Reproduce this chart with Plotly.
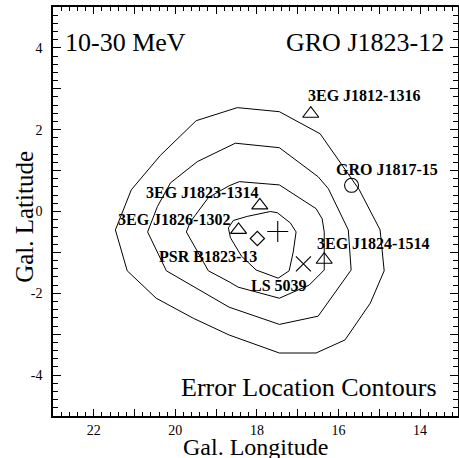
import plotly.graph_objects as go

# ---------------- data ----------------
# Error location contours (Gal. longitude / latitude vertices), outer -> inner
contour1_lon = [18.48, 17.45, 16.45, 15.49, 14.98, 14.88, 15.22, 15.84, 16.55, 17.45,
                18.68, 19.56, 20.47, 21.18, 21.47, 21.08, 20.37, 19.49]
contour1_lat = [2.54, 2.44, 1.90, 0.53, -0.45, -1.45, -2.24, -3.14, -3.46, -3.46,
                -3.02, -2.61, -2.12, -1.45, -0.45, 0.53, 1.37, 2.22]

contour2_lon = [18.53, 17.45, 16.50, 16.25, 15.76, 15.69, 16.50, 17.45, 18.68, 19.61,
                20.22, 20.68, 20.44, 20.12, 19.46]
contour2_lat = [1.67, 1.56, 0.85, 0.56, -0.45, -1.43, -2.56, -2.76, -2.34, -1.81,
                -1.45, -0.50, 0.12, 0.70, 1.22]

contour3_lon = [18.43, 17.45, 16.55, 16.40, 16.35, 16.35, 16.72, 17.45, 18.46, 18.68,
                19.19, 19.73, 19.63, 19.19, 18.68]
contour3_lat = [0.73, 0.65, 0.07, -0.18, -0.50, -1.43, -1.80, -2.12, -1.85, -1.72,
                -1.45, -0.50, -0.25, 0.34, 0.63]

contour4_lon = [18.58, 18.24, 17.67, 17.50, 17.18, 17.04, 17.11, 17.21, 17.48, 18.02,
                18.38, 18.65, 18.70]
contour4_lat = [-0.22, -0.12, 0.00, -0.03, -0.28, -0.50, -0.99, -1.45, -1.63, -1.43,
                -1.09, -0.64, -0.40]

# Sources
triangle_names = ["3EG J1812-1316", "3EG J1823-1314", "3EG J1826-1302", "3EG J1824-1514"]
triangle_lon = [16.68, 17.93, 18.45, 16.35]
triangle_lat = [2.39, 0.15, -0.45, -1.18]

circle_names = ["GRO J1817-15"]
circle_lon = [15.68]
circle_lat = [0.64]

diamond_names = ["PSR B1823-13"]
diamond_lon = [17.99]
diamond_lat = [-0.66]

plus_lon = [17.49]
plus_lat = [-0.49]

x_names = ["LS 5039"]
x_lon = [16.86]
x_lat = [-1.28]

# Source label texts and their anchor points
label_texts = ["3EG J1812-1316", "GRO J1817-15", "3EG J1823-1314", "3EG J1826-1302",
               "PSR B1823-13", "3EG J1824-1514", "LS 5039"]
label_lon = [15.37, 14.82, 19.34, 20.04, 19.21, 15.15, 17.45]
label_lat = [2.84, 1.02, 0.47, -0.20, -1.11, -0.79, -1.81]

# Axis ticks
x_tickvals = list(range(13, 24))
x_ticktext = [str(v) if v in (14, 16, 18, 20, 22) else "" for v in x_tickvals]
y_tickvals = list(range(-5, 6))
y_ticktext = [str(v) if v in (-4, -2, 0, 2, 4) else "" for v in y_tickvals]
long_x_ticks = [15, 20]
long_y_ticks = [0]

X_RANGE = [23, 13.07]
Y_RANGE = [-5, 5]

FONT = "Liberation Serif"

# ---------------- figure ----------------
fig = go.Figure()

for lon, lat in [(contour1_lon, contour1_lat), (contour2_lon, contour2_lat),
                 (contour3_lon, contour3_lat), (contour4_lon, contour4_lat)]:
    fig.add_trace(go.Scatter(x=lon + lon[:1], y=lat + lat[:1], mode="lines",
                             line=dict(color="black", width=1), showlegend=False,
                             hoverinfo="skip"))

def add_markers(lon, lat, symbol, size, names=None):
    fig.add_trace(go.Scatter(
        x=lon, y=lat, mode="markers", showlegend=False,
        text=names,
        marker=dict(symbol=symbol, size=size, color="black",
                    line=dict(color="black", width=1.1))))

add_markers(triangle_lon, triangle_lat, "triangle-up-open", 14, triangle_names)
add_markers(circle_lon, circle_lat, "circle-open", 14, circle_names)
add_markers(diamond_lon, diamond_lat, "diamond-open", 11, diamond_names)
add_markers(plus_lon, plus_lat, "cross-thin-open", 15)
add_markers(x_lon, x_lat, "x-thin-open", 15, x_names)

for t, lx, ly in zip(label_texts, label_lon, label_lat):
    fig.add_annotation(x=lx, y=ly, xref="x", yref="y", text="<b>%s</b>" % t,
                       showarrow=False, xanchor="center", yanchor="middle",
                       font=dict(family=FONT, size=16, color="black"))

# big corner texts
fig.add_annotation(x=22.75, y=4.12, xref="x", yref="y", text="10-30 MeV",
                   showarrow=False, xanchor="left", yanchor="middle",
                   font=dict(family=FONT, size=26, color="black"))
fig.add_annotation(x=13.37, y=4.12, xref="x", yref="y", text="GRO J1823-12",
                   showarrow=False, xanchor="right", yanchor="middle",
                   font=dict(family=FONT, size=26, color="black"))
fig.add_annotation(x=13.53, y=-4.30, xref="x", yref="y", text="Error Location Contours",
                   showarrow=False, xanchor="right", yanchor="middle",
                   font=dict(family=FONT, size=26, color="black"))

# axis titles
fig.add_annotation(x=0.501, y=-0.076, xref="paper", yref="paper", text="Gal. Longitude",
                   showarrow=False, xanchor="center", yanchor="middle",
                   font=dict(family=FONT, size=24, color="black"))
fig.add_annotation(x=-0.069, y=0.487, xref="paper", yref="paper", text="Gal. Latitude",
                   showarrow=False, xanchor="center", yanchor="middle", textangle=-90,
                   font=dict(family=FONT, size=25, color="black"))

common_axis = dict(showgrid=False, zeroline=False, showline=True, linecolor="black",
                   linewidth=1.5, mirror="allticks", tickcolor="black", tickwidth=1,
                   automargin=False)

fig.update_layout(
    width=459, height=458,
    margin=dict(l=53, r=1, t=7, b=42),
    plot_bgcolor="white", paper_bgcolor="white",
    font=dict(family=FONT, color="black"),
    xaxis=dict(range=X_RANGE, tickmode="array", tickvals=x_tickvals, ticktext=x_ticktext,
               ticks="inside", ticklen=7, ticklabelstandoff=0,
               tickfont=dict(family=FONT, size=14, color="black"),
               minor=dict(ticks="inside", dtick=0.2, tick0=0, ticklen=4,
                          tickcolor="black", tickwidth=1),
               **common_axis),
    yaxis=dict(range=Y_RANGE, tickmode="array", tickvals=y_tickvals, ticktext=y_ticktext,
               ticks="inside", ticklen=8, ticklabelstandoff=6,
               tickfont=dict(family=FONT, size=14, color="black"),
               minor=dict(ticks="inside", dtick=0.2, tick0=0, ticklen=5,
                          tickcolor="black", tickwidth=1),
               **common_axis),
    xaxis2=dict(range=X_RANGE, overlaying="x", anchor="y", tickmode="array",
                tickvals=long_x_ticks, ticks="inside", ticklen=9,
                showticklabels=False, **common_axis),
    xaxis3=dict(range=X_RANGE, overlaying="x", anchor="y", tickmode="array",
                tickvals=long_x_ticks, ticks="outside", ticklen=4,
                showticklabels=False, **common_axis),
    yaxis2=dict(range=Y_RANGE, overlaying="y", anchor="x", tickmode="array",
                tickvals=long_y_ticks, ticks="inside", ticklen=9,
                showticklabels=False, **common_axis),
    yaxis3=dict(range=Y_RANGE, overlaying="y", anchor="x", tickmode="array",
                tickvals=long_y_ticks, ticks="outside", ticklen=4,
                showticklabels=False, **common_axis),
)

fig.write_html(
    "out.html",
    config={"displayModeBar": False},
    post_script="document.body.style.margin='0';document.body.style.overflow='hidden';",
)
